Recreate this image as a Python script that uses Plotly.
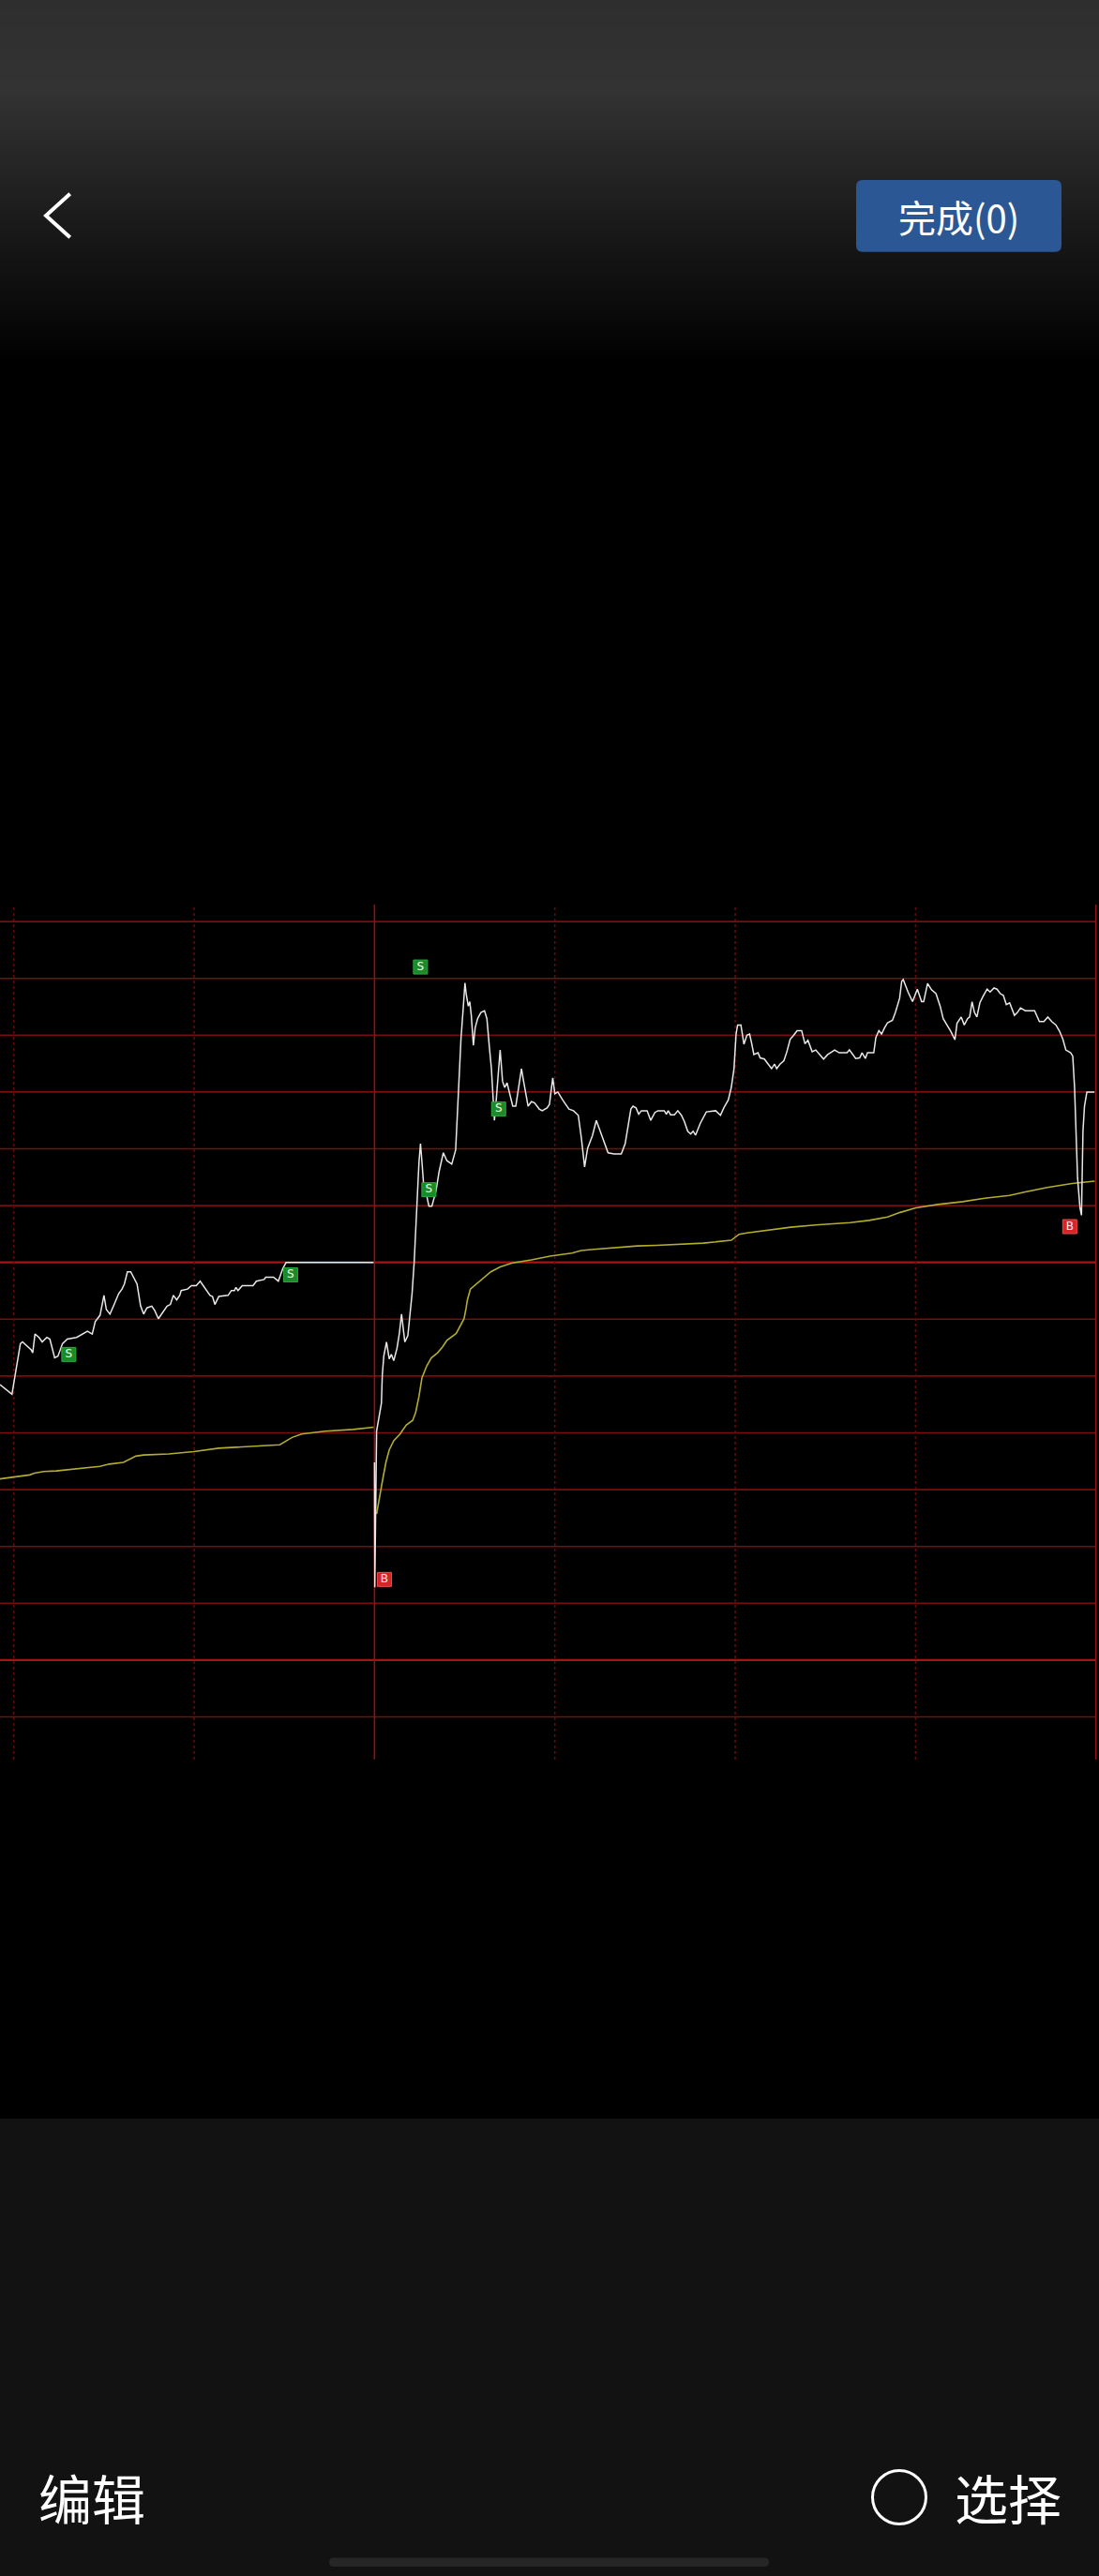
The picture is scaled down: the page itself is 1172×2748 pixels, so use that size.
import plotly.graph_objects as go

W, H = 1172, 2748

# ---------------- data (minutes on a 2-day intraday axis, % vs reference line) -------------
day1_x = [-4.6, -0.6, 0.4, 2.2, 2.9, 5.8, 6.3, 7.05, 8.4, 9.45, 11.0, 12.0, 13.6, 14.7, 16.2, 17.8,
          20.9, 23.5, 24.5, 26.1, 27.1, 28.7, 30.0, 30.8, 32.0, 33.4, 34.9, 36.0, 36.8, 37.8, 38.9,
          41.0, 42.2, 43.2, 44.3, 45.9, 46.9, 48.1, 49.5, 51.0, 52.1, 53.1, 54.2, 55.2, 55.7, 57.8,
          59.1, 60.7, 62.0, 64.0, 65.3, 66.1, 66.9, 68.2, 70.3, 71.3, 72.4, 73.4, 73.9, 74.6, 76.0,
          79.6, 80.7, 83.3, 83.8, 86.4, 88.0, 89.5, 90.6, 119.7]
day1_price = [-2.15, -2.32, -2.00, -1.43, -1.40, -1.54, -1.59, -1.26, -1.32, -1.40, -1.32, -1.35,
              -1.68, -1.65, -1.43, -1.35, -1.32, -1.24, -1.21, -1.26, -1.04, -0.93, -0.58, -0.83,
              -0.91, -0.74, -0.55, -0.47, -0.38, -0.165, -0.165, -0.38, -0.77, -0.91, -0.80, -0.77,
              -0.85, -0.99, -0.88, -0.77, -0.74, -0.58, -0.66, -0.58, -0.495, -0.47, -0.41, -0.41,
              -0.33, -0.495, -0.58, -0.60, -0.74, -0.60, -0.58, -0.58, -0.495, -0.495, -0.44, -0.495,
              -0.41, -0.41, -0.33, -0.30, -0.26, -0.26, -0.33, -0.11, 0.0, 0.0]

day1_avg_x = [-4.6, 0.6, 5.3, 6.9, 10.0, 14.1, 21.4, 28.7, 31.8, 36.5, 40.6, 43.2, 51.6, 59.9,
              68.2, 78.6, 88.5, 92.6, 95.8, 103.6, 112.9, 119.7]
day1_avg = [-3.81, -3.77, -3.74, -3.71, -3.68, -3.67, -3.63, -3.59, -3.55, -3.52, -3.41, -3.39,
            -3.37, -3.33, -3.27, -3.24, -3.21, -3.08, -3.02, -2.97, -2.94, -2.90]

day2_x = [120.0, 120.1, 120.7, 121.4, 122.3, 122.6, 123.1, 124.0, 124.9, 125.6, 126.4, 127.5, 128.3,
          129.0, 130.1, 131.1, 131.8, 132.5, 133.2, 133.7, 134.2, 134.8, 135.3, 135.8, 136.3, 137.0,
          138.1, 139.1, 140.5, 141.5, 142.9, 144.1, 145.7, 147.0, 147.7, 148.8, 149.5, 150.1, 150.5,
          151.2, 151.7, 152.2, 152.9, 153.5, 154.3, 155.4, 156.6, 157.4, 158.2, 158.9, 159.5, 159.9,
          160.5, 161.3, 161.8, 162.6, 163.3, 164.1, 165.1, 166.0, 167.0, 168.0, 168.9, 169.6, 170.6,
          171.1, 172.2, 173.2, 174.8, 175.8, 177.4, 178.2, 178.9, 179.3, 180.0, 181.0, 182.6, 184.7,
          186.2, 187.8, 188.8, 189.9, 190.9, 192.5, 193.8, 195.1, 196.3, 197.7, 199.7, 202.1, 203.4,
          204.4, 205.3, 206.0, 207.0, 207.9, 208.8, 210.7, 211.9, 213.3, 214.3, 216.4, 217.1, 217.7,
          218.5, 219.8, 220.9, 222.1, 223.1, 224.2, 225.2, 226.0, 226.8, 228.4, 230.4, 233.5, 235.1,
          236.2, 237.7, 238.7, 239.6, 240.3, 240.8, 241.9, 242.9, 243.9, 244.8, 245.5, 246.2, 247.6,
          248.3, 249.7, 251.0, 252.1, 253.1, 253.8, 254.9, 256.2, 257.2, 258.3, 259.3, 260.6, 262.1,
          263.2, 264.2, 265.6, 266.8, 268.1, 269.4, 270.8, 273.1, 274.6, 277.2, 278.0, 279.1, 280.1,
          281.4, 282.2, 283.3, 284.0, 286.1, 286.8, 287.8, 288.7, 289.7, 290.7, 292.3, 293.3, 294.7,
          295.4, 295.9, 297.5, 299.0, 300.6, 302.0, 302.7, 304.0, 305.3, 306.8, 308.2, 309.2, 310.5,
          311.7, 313.1, 313.8, 315.2, 316.2, 317.3, 318.0, 318.8, 319.6, 320.4, 321.4, 322.4, 323.8,
          324.8, 326.1, 327.1, 328.2, 329.2, 330.2, 331.3, 332.9, 333.9, 334.9, 336.5, 339.6, 341.2,
          342.7, 344.0, 345.3, 346.7, 347.9, 349.0, 350.0, 351.6, 352.3, 352.9, 353.3, 353.9, 354.7,
          355.2, 355.7, 356.2, 357.0, 359.5]
day2_price = [-3.52, -5.72, -2.97, -2.78, -2.48, -1.98, -1.65, -1.40, -1.70, -1.62, -1.73, -1.51,
              -1.24, -0.91, -1.40, -1.29, -0.93, -0.55, 0.0, 0.66, 1.10, 1.76, 2.09, 1.76, 1.40,
              1.27, 0.99, 0.99, 1.27, 1.60, 1.93, 1.79, 1.73, 1.98, 2.86, 3.96, 4.46, 4.92, 4.73,
              4.51, 4.59, 4.35, 3.82, 4.13, 4.29, 4.40, 4.43, 4.29, 3.80, 3.41, 2.86, 2.50, 2.86,
              3.41, 3.74, 3.19, 3.08, 3.16, 2.92, 2.75, 2.75, 3.08, 3.41, 3.19, 2.86, 2.75, 2.83,
              2.81, 2.70, 2.67, 2.72, 2.78, 3.08, 3.25, 2.97, 3.00, 2.86, 2.70, 2.67, 2.59, 2.20,
              1.68, 2.01, 2.23, 2.50, 2.31, 2.15, 1.93, 1.91, 1.91, 2.09, 2.42, 2.70, 2.75, 2.72,
              2.61, 2.67, 2.67, 2.50, 2.64, 2.67, 2.67, 2.61, 2.67, 2.60, 2.60, 2.67, 2.59, 2.48,
              2.31, 2.26, 2.31, 2.24, 2.45, 2.65, 2.67, 2.59, 2.72, 2.86, 3.08, 3.41, 4.02, 4.18,
              4.18, 3.84, 4.00, 4.02, 3.85, 3.66, 3.69, 3.60, 3.58, 3.49, 3.41, 3.49, 3.41, 3.49,
              3.55, 3.71, 3.93, 3.99, 4.08, 4.08, 3.85, 3.91, 3.71, 3.74, 3.66, 3.58, 3.66, 3.74,
              3.69, 3.69, 3.74, 3.66, 3.59, 3.60, 3.69, 3.59, 3.69, 3.69, 3.96, 4.08, 4.02, 4.13,
              4.22, 4.26, 4.40, 4.65, 4.95, 4.98, 4.76, 4.59, 4.81, 4.59, 4.59, 4.91, 4.80, 4.73,
              4.51, 4.29, 4.18, 4.07, 3.92, 4.21, 4.32, 4.18, 4.29, 4.32, 4.59, 4.40, 4.32, 4.57,
              4.68, 4.81, 4.76, 4.83, 4.81, 4.73, 4.70, 4.54, 4.57, 4.35, 4.40, 4.48, 4.43, 4.43,
              4.24, 4.24, 4.32, 4.24, 4.18, 4.07, 3.93, 3.74, 3.69, 3.63, 3.08, 2.42, 1.49, 0.96,
              0.83, 2.31, 2.75, 3.00, 3.00]

day2_avg_x = [120.7, 121.8, 122.8, 123.8, 124.9, 126.4, 128.5, 130.6, 132.7, 133.7, 134.8, 135.8,
              137.4, 138.9, 141.0, 142.6, 144.1, 147.2, 148.8, 149.8, 150.5, 150.9, 151.9, 155.0,
              158.7, 161.8, 165.9, 172.2, 178.4, 185.7, 188.8, 193.0, 200.3, 207.5, 213.8, 221.1,
              229.4, 238.7, 240.0, 241.3, 243.9, 252.2, 258.5, 266.8, 278.3, 284.5, 290.7, 294.9,
              300.1, 307.4, 315.7, 323.0, 331.3, 336.5, 343.8, 352.1, 359.6]
day2_avg = [-4.43, -4.13, -3.80, -3.52, -3.30, -3.14, -3.02, -2.86, -2.78, -2.64, -2.36, -2.03,
            -1.82, -1.68, -1.59, -1.49, -1.37, -1.25, -1.10, -0.99, -0.80, -0.66, -0.47, -0.33,
            -0.165, -0.08, -0.01, 0.045, 0.11, 0.165, 0.21, 0.23, 0.26, 0.29, 0.30, 0.32, 0.34,
            0.39, 0.44, 0.495, 0.52, 0.58, 0.62, 0.66, 0.70, 0.74, 0.80, 0.88, 0.96, 1.02, 1.07,
            1.13, 1.18, 1.24, 1.32, 1.39, 1.43]

sell_x = [18.3, 92.1, 135.3, 138.1, 161.3]
sell_y = [-1.62, -0.22, 5.20, 1.28, 2.70]
buy_x = [123.3, 351.3]
buy_y = [-5.58, 0.63]

h_levels = [6, 5, 4, 3, 2, 1, 0, -1, -2, -3, -4, -5, -6, -7, -8]
h_strong = [0, -7]
v_ticks = [0, 60, 120, 180, 240, 300, 360]
v_solid = [120, 360]

button_label = "完成(0)"
left_label = "编辑"
right_label = "选择"

# ---------------- layout helpers ----------------
def px(x):
    return x / W

def py(y):
    return 1 - y / H

X_RANGE = [-4.586, 361.03]
Y_RANGE = [-9.130, 6.711]
Y_DOMAIN = [py(1900), py(940)]
GRID_TOP, GRID_BOT = 6.30, -8.75
X_LEFT, X_RIGHT = X_RANGE[0], 360

shapes = []

# header gradient
band = 5
for y0 in range(0, 400, band):
    yc = y0 + band / 2
    if yc < 95:
        c = 0x2e + (0x33 - 0x2e) * yc / 95
    else:
        c = max(0, 0x33 * (1 - (yc - 95) / 295))
    c = int(round(c))
    shapes.append(dict(type="rect", xref="paper", yref="paper", x0=0, x1=1,
                       y0=py(y0 + band), y1=py(y0), line=dict(width=0),
                       fillcolor=f"rgb({c},{c},{c})", layer="below"))

# footer
shapes.append(dict(type="rect", xref="paper", yref="paper", x0=0, x1=1, y0=0, y1=py(2260),
                   line=dict(width=0), fillcolor="#121212", layer="below"))

def rounded(x0, y0, x1, y1, r):
    pts = (f"M {px(x0 + r)},{py(y0)} L {px(x1 - r)},{py(y0)} "
           f"Q {px(x1)},{py(y0)} {px(x1)},{py(y0 + r)} L {px(x1)},{py(y1 - r)} "
           f"Q {px(x1)},{py(y1)} {px(x1 - r)},{py(y1)} L {px(x0 + r)},{py(y1)} "
           f"Q {px(x0)},{py(y1)} {px(x0)},{py(y1 - r)} L {px(x0)},{py(y0 + r)} "
           f"Q {px(x0)},{py(y0)} {px(x0 + r)},{py(y0)} Z")
    return pts

# button
shapes.append(dict(type="path", xref="paper", yref="paper", path=rounded(913, 192, 1132, 268.7, 7),
                   fillcolor="#2b5894", line=dict(width=0)))
# back chevron
shapes.append(dict(type="path", xref="paper", yref="paper",
                   path=f"M {px(74.7)},{py(206.7)} L {px(49)},{py(230)} L {px(74.7)},{py(253.3)}",
                   line=dict(color="white", width=4)))
# circle
shapes.append(dict(type="circle", xref="paper", yref="paper",
                   x0=px(959 - 28.5), x1=px(959 + 28.5), y0=py(2664 + 28.5), y1=py(2664 - 28.5),
                   line=dict(color="white", width=3)))
# home indicator
shapes.append(dict(type="path", xref="paper", yref="paper", path=rounded(351, 2728.5, 820, 2738, 4.7),
                   fillcolor="#262626", line=dict(width=0)))

# chart grid
for lv in h_levels:
    strong = lv in h_strong
    shapes.append(dict(type="line", xref="x", yref="y", x0=X_LEFT, x1=X_RIGHT, y0=lv, y1=lv,
                       line=dict(color="#a81414" if strong else "#780e0e", width=2.2 if strong else 1.6),
                       layer="below"))
for t in v_ticks:
    solid = t in v_solid
    shapes.append(dict(type="line", xref="x", yref="y", x0=t, x1=t, y0=GRID_BOT, y1=GRID_TOP,
                       line=dict(color="#921212" if solid else "#5e0b0b", width=1.6,
                                 dash="solid" if solid else "dot"),
                       layer="below"))

fig = go.Figure()
fig.add_trace(go.Scatter(x=day1_avg_x, y=day1_avg, mode="lines",
                         line=dict(color="#b3ad2e", width=1.6), hoverinfo="skip"))
fig.add_trace(go.Scatter(x=day2_avg_x, y=day2_avg, mode="lines",
                         line=dict(color="#b3ad2e", width=1.6), hoverinfo="skip"))
fig.add_trace(go.Scatter(x=day1_x, y=day1_price, mode="lines",
                         line=dict(color="#e8e8e8", width=1.5), hoverinfo="skip"))
fig.add_trace(go.Scatter(x=day2_x, y=day2_price, mode="lines",
                         line=dict(color="#e8e8e8", width=1.5), hoverinfo="skip"))
fig.add_trace(go.Scatter(x=sell_x, y=sell_y, mode="markers+text", text=["S"] * len(sell_x),
                         textposition="middle center",
                         textfont=dict(color="#e8ffe8", size=12, family="DejaVu Sans"),
                         marker=dict(symbol="square", size=15, color="#1c8a2a",
                                     line=dict(color="#2da83c", width=1)),
                         hoverinfo="skip"))
fig.add_trace(go.Scatter(x=buy_x, y=buy_y, mode="markers+text", text=["B"] * len(buy_x),
                         textposition="middle center",
                         textfont=dict(color="#ffe8e8", size=12, family="DejaVu Sans"),
                         marker=dict(symbol="square", size=15, color="#d42628",
                                     line=dict(color="#ee4a4a", width=1)),
                         hoverinfo="skip"))

annotations = [
    dict(text=button_label, xref="paper", yref="paper", x=px(1022.5), y=py(231), showarrow=False,
         font=dict(family="Noto Sans CJK SC", size=40, color="white"), xanchor="center", yanchor="middle"),
    dict(text=left_label, xref="paper", yref="paper", x=px(98), y=py(2663), showarrow=False,
         font=dict(family="Noto Sans CJK SC", size=57, color="white"), xanchor="center", yanchor="middle"),
    dict(text=right_label, xref="paper", yref="paper", x=px(1075), y=py(2663), showarrow=False,
         font=dict(family="Noto Sans CJK SC", size=57, color="white"), xanchor="center", yanchor="middle"),
]

fig.update_layout(
    width=W, height=H, margin=dict(l=0, r=0, t=0, b=0),
    paper_bgcolor="black", plot_bgcolor="rgba(0,0,0,0)",
    showlegend=False, shapes=shapes, annotations=annotations,
    xaxis=dict(range=X_RANGE, domain=[0, 1], visible=False, fixedrange=True),
    yaxis=dict(range=Y_RANGE, domain=Y_DOMAIN, visible=False, fixedrange=True),
)

fig.write_html(
    "out.html",
    config={"displayModeBar": False},
    post_script="document.body.style.margin='0';document.body.style.padding='0';"
                "document.body.style.background='black';"
                "document.documentElement.style.background='black';",
)
